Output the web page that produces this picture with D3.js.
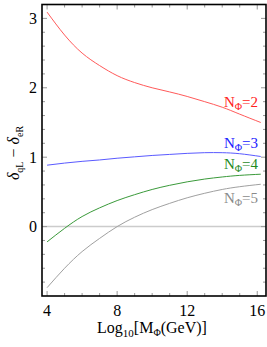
<!DOCTYPE html>
<html lang="en">
<head>
    <meta charset="UTF-8">
    <title>delta vs mass</title>
    <script src="https://cdn.jsdelivr.net/npm/d3@7"></script>
    <style>
        body { margin: 0; background: #fff; }
    </style>
</head>
<body>
<script>
    const logMass = [4, 5, 6, 7, 8, 9, 10, 11, 12, 13, 14, 15, 16.2]
    const nPhi2 = [3.09, 2.76, 2.50, 2.32, 2.175, 2.075, 2.00, 1.94, 1.875, 1.80, 1.72, 1.62, 1.50]
    const nPhi3 = [0.885, 0.915, 0.94, 0.96, 0.985, 1.005, 1.025, 1.04, 1.055, 1.065, 1.065, 1.05, 1.01]
    const nPhi4 = [-0.22, -0.025, 0.145, 0.27, 0.375, 0.46, 0.535, 0.595, 0.645, 0.685, 0.715, 0.738, 0.755]
    const nPhi5 = [-0.88, -0.60, -0.36, -0.17, 0.0, 0.135, 0.245, 0.335, 0.415, 0.48, 0.535, 0.575, 0.61]
    const xTicks = [4, 8, 12, 16]
    const yTicks = [0, 1, 2, 3]

    const series = [
        {n: 2, values: nPhi2, line: '#ff5a5a', text: '#ff2020', labelY: 1.72},
        {n: 3, values: nPhi3, line: '#5a5aff', text: '#2020ff', labelY: 1.13},
        {n: 4, values: nPhi4, line: '#3a9a3a', text: '#1e8a1e', labelY: 0.83},
        {n: 5, values: nPhi5, line: '#a0a0a0', text: '#8a8a8a', labelY: 0.34}
    ]

    const serif = "'Liberation Serif', 'DejaVu Serif', serif"
    const [width, height] = [267, 347]
    const [padL, padR, padT, padB] = [42, 266, 4.5, 296]
    const x = d3.scaleLinear().domain([3.71, 16.5]).range([padL, padR])
    const y = d3.scaleLinear().domain([-1, 3.2]).range([padB, padT])

    const svg = d3.select('body').append('svg')
        .attr('width', width)
        .attr('height', height)

    // zero line
    svg.append('line')
        .attr('x1', padL).attr('x2', padR)
        .attr('y1', y(0)).attr('y2', y(0))
        .attr('stroke', '#cccccc').attr('stroke-width', 1.5)

    // ticks inside the frame, all four sides
    const ticks = svg.append('g').attr('stroke', '#999').attr('stroke-width', 1)
    d3.range(4, 17).forEach(v => {
        const len = v % 4 === 0 ? 5 : 3
        ticks.append('line').attr('x1', x(v)).attr('x2', x(v)).attr('y1', padB).attr('y2', padB - len)
        ticks.append('line').attr('x1', x(v)).attr('x2', x(v)).attr('y1', padT).attr('y2', padT + len)
    })
    d3.range(-4, 16).map(i => i * 0.2).forEach(v => {
        const major = Math.abs(v - Math.round(v)) < 1e-6
        const len = major ? 5 : 3
        ticks.append('line').attr('y1', y(v)).attr('y2', y(v)).attr('x1', padL).attr('x2', padL + len)
        ticks.append('line').attr('y1', y(v)).attr('y2', y(v)).attr('x1', padR).attr('x2', padR - len)
    })

    // curves
    const line = d3.line()
        .x((d, i) => x(logMass[i]))
        .y(d => y(d))
        .curve(d3.curveNatural)
    svg.selectAll('path.curve')
        .data(series)
        .enter().append('path')
        .attr('class', 'curve')
        .attr('fill', 'none')
        .attr('stroke', d => d.line)
        .attr('stroke-width', 1)
        .attr('d', d => line(d.values))

    // curve labels
    series.forEach(s => {
        const t = svg.append('text')
            .attr('x', 258).attr('y', y(s.labelY))
            .attr('text-anchor', 'end')
            .attr('fill', s.text)
            .style('font-family', serif)
            .style('font-size', '15px')
        t.append('tspan').text('N')
        t.append('tspan').attr('dy', 3).style('font-size', '10px').text('Φ')
        t.append('tspan').attr('dy', -3).text('=' + s.n)
    })

    // frame
    svg.append('rect')
        .attr('x', padL).attr('y', padT)
        .attr('width', padR - padL).attr('height', padB - padT)
        .attr('fill', 'none').attr('stroke', '#000').attr('stroke-width', 1.6)

    // tick labels
    svg.selectAll('text.xt').data(xTicks).enter().append('text')
        .attr('class', 'xt')
        .attr('x', d => x(d)).attr('y', 316)
        .attr('text-anchor', 'middle')
        .style('font-family', serif)
        .style('font-size', '16px')
        .text(d => d)
    svg.selectAll('text.yt').data(yTicks).enter().append('text')
        .attr('class', 'yt')
        .attr('x', 33).attr('y', d => y(d) + 5.5)
        .attr('text-anchor', 'middle')
        .style('font-family', serif)
        .style('font-size', '16px')
        .text(d => d)

    // axis titles
    const xl = svg.append('text')
        .attr('x', 152).attr('y', 333)
        .attr('text-anchor', 'middle')
        .style('font-family', serif)
        .style('font-size', '16px')
    xl.append('tspan').text('Log')
    xl.append('tspan').attr('dy', 4).style('font-size', '11px').text('10')
    xl.append('tspan').attr('dy', -4).text('[M')
    xl.append('tspan').attr('dy', 3).style('font-size', '10px').text('Φ')
    xl.append('tspan').attr('dy', -3).text('(GeV)]')

    const yl = svg.append('text')
        .attr('transform', 'translate(19,153) rotate(-90)')
        .attr('text-anchor', 'middle')
        .style('font-family', serif)
        .style('font-size', '16px')
    yl.append('tspan').style('font-style', 'italic').text('δ')
    yl.append('tspan').attr('dy', 4).style('font-size', '10px').text('qL')
    yl.append('tspan').attr('dy', -4).text(' − ')
    yl.append('tspan').style('font-style', 'italic').text('δ')
    yl.append('tspan').attr('dy', 4).style('font-size', '10px').text('eR')
</script>
</body>
</html>
